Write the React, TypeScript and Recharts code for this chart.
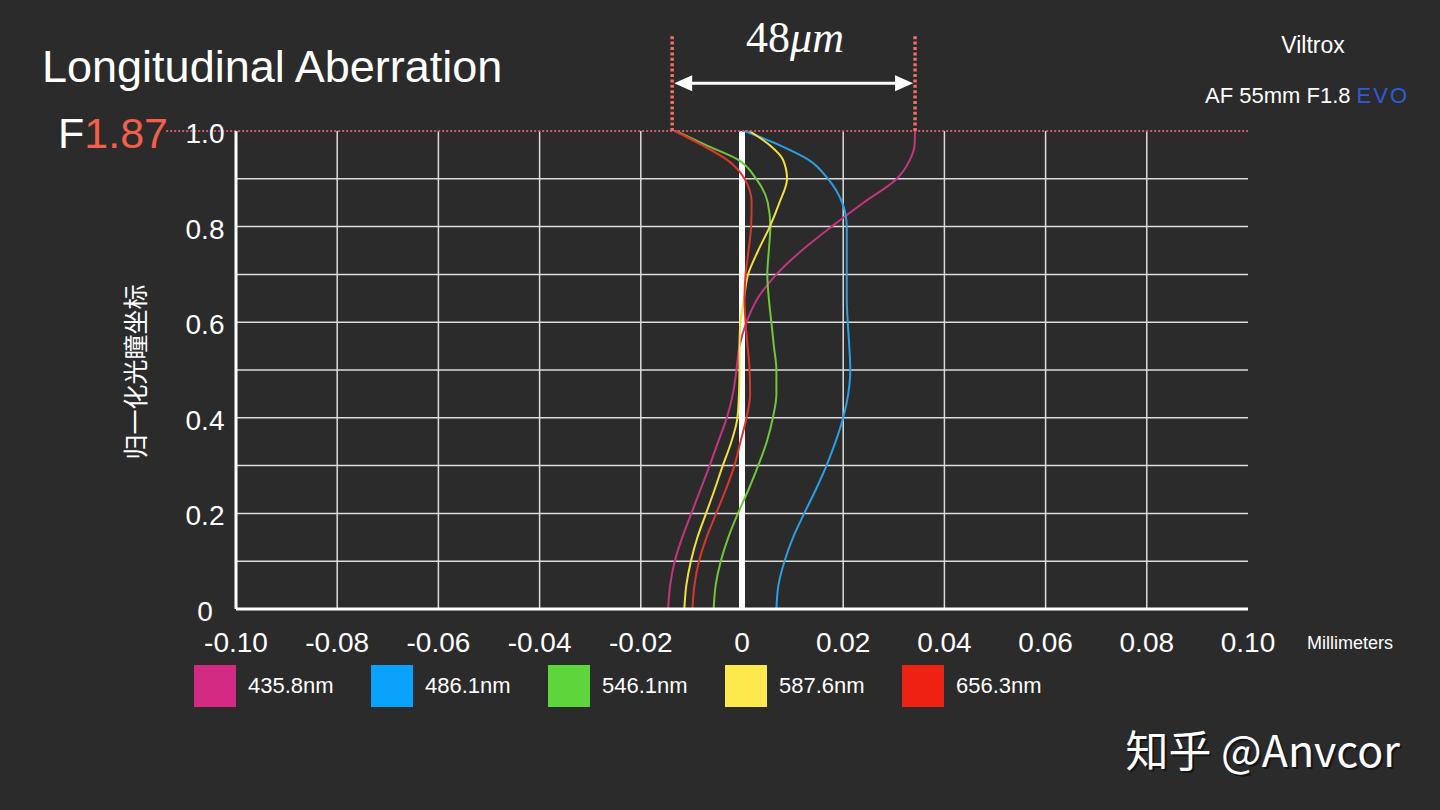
import React from 'react';
import { LineChart, Line, XAxis, YAxis, ReferenceLine } from 'recharts';

// normalized pupil coordinate (vertical axis)
const PUPIL = [0, 0.05, 0.1, 0.15, 0.2, 0.25, 0.3, 0.35, 0.4, 0.45, 0.5, 0.55, 0.6, 0.65, 0.7, 0.75, 0.8, 0.85, 0.9, 0.94, 0.97, 1.0];

// longitudinal focus shift, mm
const W4358 = [-0.0146, -0.0142, -0.0133, -0.0118, -0.0100, -0.0082, -0.0064, -0.0047, -0.0030, -0.0018, -0.0011, -0.0005, 0.0009, 0.0031, 0.0068, 0.0118, 0.0177, 0.0240, 0.0306, 0.0332, 0.0341, 0.0342];
const W4861 = [0.0068, 0.0072, 0.0084, 0.0101, 0.0123, 0.0146, 0.0167, 0.0185, 0.0200, 0.0210, 0.0214, 0.0212, 0.0209, 0.0207, 0.0207, 0.0207, 0.0207, 0.0198, 0.0170, 0.0131, 0.0075, 0.0005];
const W5461 = [-0.0056, -0.0052, -0.0042, -0.0027, -0.0008, 0.0013, 0.0032, 0.0049, 0.0061, 0.0068, 0.0068, 0.0063, 0.0058, 0.0053, 0.0050, 0.0053, 0.0056, 0.0051, 0.0028, -0.0008, -0.0070, -0.0130];
const W5876 = [-0.0114, -0.0110, -0.0101, -0.0088, -0.0071, -0.0054, -0.0038, -0.0021, -0.0009, -0.0006, -0.0005, -0.0005, -0.0003, 0.0004, 0.0012, 0.0032, 0.0055, 0.0074, 0.0089, 0.0081, 0.0055, 0.0015];
const W6563 = [-0.0098, -0.0094, -0.0085, -0.0070, -0.0051, -0.0032, -0.0015, -0.0003, 0.0009, 0.0016, 0.0015, 0.0011, 0.0007, 0.0005, 0.0007, 0.0013, 0.0018, 0.0019, 0.0005, -0.0030, -0.0078, -0.0133];

const SERIES = [
  { key: 'w4358', name: '435.8nm', values: W4358, line: '#c4357d', swatch: '#d12b83' },
  { key: 'w4861', name: '486.1nm', values: W4861, line: '#2c9fe4', swatch: '#0ba2fb' },
  { key: 'w5461', name: '546.1nm', values: W5461, line: '#71c63c', swatch: '#5cd63a' },
  { key: 'w5876', name: '587.6nm', values: W5876, line: '#f3e03e', swatch: '#fde94c' },
  { key: 'w6563', name: '656.3nm', values: W6563, line: '#dc362c', swatch: '#ee2212' },
];

const X_TICKS = [-0.1, -0.08, -0.06, -0.04, -0.02, 0, 0.02, 0.04, 0.06, 0.08, 0.1];
const X_LABELS = ['-0.10', '-0.08', '-0.06', '-0.04', '-0.02', '0', '0.02', '0.04', '0.06', '0.08', '0.10'];
const Y_TICKS = [0, 0.1, 0.2, 0.3, 0.4, 0.5, 0.6, 0.7, 0.8, 0.9, 1.0];
const Y_LABELS = ['0', '', '0.2', '', '0.4', '', '0.6', '', '0.8', '', '1.0'];
const GRID_X = [-0.08, -0.06, -0.04, -0.02, 0.02, 0.04, 0.06, 0.08];
const GRID_Y = [0.1, 0.2, 0.3, 0.4, 0.5, 0.6, 0.7, 0.8, 0.9];

// marginal ray spread at full aperture (48 µm)
const SPREAD = [-0.0138, 0.0342];

const data = PUPIL.map((y, i) => {
  const row: Record<string, number> = { y };
  SERIES.forEach(s => { row[s.key] = s.values[i]; });
  return row;
});

const FONT = '"Liberation Sans", Arial, Helvetica, sans-serif';
const CJK = '"Noto Sans CJK SC", sans-serif';

function labelFor(ticks: number[], labels: string[], v: number) {
  const i = ticks.findIndex(t => Math.abs(t - v) < 1e-9);
  return i >= 0 ? labels[i] : '';
}

function XTick(props: any) {
  const { x, payload } = props;
  return (
    <text x={x} y={652} textAnchor="middle" fill="#fff" fontSize={28} fontFamily={FONT}>
      {labelFor(X_TICKS, X_LABELS, payload.value)}
    </text>
  );
}

function YTick(props: any) {
  const { y, payload } = props;
  const label = labelFor(Y_TICKS, Y_LABELS, payload.value);
  if (!label) return <g />;
  return (
    <text x={205} y={y + 12} textAnchor="middle" fill="#fff" fontSize={28} fontFamily={FONT}>
      {label}
    </text>
  );
}

function ArrowShape(props: any) {
  const { x1, y1, x2, y2 } = props;
  const head = 20;
  const half = 8;
  return (
    <g>
      <line x1={x1 + head - 4} y1={y1} x2={x2 - head + 4} y2={y2} stroke="#fff" strokeWidth={3} />
      <polygon points={`${x1 + 2},${y1} ${x1 + head},${y1 - half} ${x1 + head},${y1 + half}`} fill="#fff" />
      <polygon points={`${x2 - 2},${y2} ${x2 - head},${y2 - half} ${x2 - head},${y2 + half}`} fill="#fff" />
    </g>
  );
}

export default function App() {
  return (
    <div style={{ position: 'absolute', left: 0, top: 0, width: 1440, height: 810, background: '#2b2b2b', fontFamily: FONT, overflow: 'hidden' }}>
      <LineChart
        width={1440}
        height={810}
        data={data}
        layout="vertical"
        margin={{ top: 131, right: 192, bottom: 141, left: 176 }}
      >
        <XAxis
          type="number"
          domain={[-0.1, 0.1]}
          ticks={X_TICKS}
          interval={0}
          height={60}
          tickLine={false}
          axisLine={{ stroke: '#fff', strokeWidth: 3 }}
          tick={<XTick />}
        />
        <YAxis
          type="number"
          dataKey="y"
          domain={[0, 1]}
          reversed
          ticks={Y_TICKS}
          interval={0}
          width={60}
          tickLine={false}
          axisLine={{ stroke: '#fff', strokeWidth: 3 }}
          tick={<YTick />}
        />

        {GRID_X.map(v => (
          <ReferenceLine key={'gx' + v} x={v} stroke="#dcdcdc" strokeWidth={1.5} />
        ))}
        {GRID_Y.map(v => (
          <ReferenceLine key={'gy' + v} y={v} stroke="#dcdcdc" strokeWidth={1.5} />
        ))}

        <ReferenceLine x={0} stroke="#fff" strokeWidth={6} />

        {SERIES.map(s => (
          <Line
            key={s.key}
            dataKey={s.key}
            name={s.name}
            type="monotone"
            stroke={s.line}
            strokeWidth={2}
            dot={false}
            activeDot={false}
            isAnimationActive={false}
          />
        ))}

        {/* F-number marker along the top edge */}
        <ReferenceLine
          segment={[{ x: -0.1138, y: 1 }, { x: 0.1, y: 1 }]}
          ifOverflow="visible"
          stroke="#d9566c"
          strokeWidth={2}
          strokeDasharray="2 2"
        />
        {SPREAD.map(v => (
          <ReferenceLine
            key={'sp' + v}
            segment={[{ x: v, y: 1 }, { x: v, y: 1.2 }]}
            ifOverflow="visible"
            stroke="#f06e64"
            strokeWidth={3.5}
            strokeDasharray="3 2.4"
          />
        ))}
        <ReferenceLine
          segment={[{ x: SPREAD[0], y: 1.1 }, { x: SPREAD[1], y: 1.1 }]}
          ifOverflow="visible"
          stroke="#fff"
          shape={ArrowShape}
        />
      </LineChart>

      <svg width={1440} height={810} style={{ position: 'absolute', left: 0, top: 0, pointerEvents: 'none' }}>
        <text x={42} y={82} fill="#fff" fontSize={45} fontFamily={FONT}>Longitudinal Aberration</text>
        <text x={58} y={148} fontSize={43} fontFamily={FONT}>
          <tspan fill="#fff">F</tspan>
          <tspan fill="#f0604c">1.87</tspan>
        </text>
        <text x={795} y={52} textAnchor="middle" fill="#fff" fontSize={44} fontFamily='"Liberation Serif", "DejaVu Serif", serif'>
          <tspan>48</tspan>
          <tspan fontStyle="italic">μm</tspan>
        </text>
        <text x={1313} y={53} textAnchor="middle" fill="#fff" fontSize={23} fontFamily={FONT}>Viltrox</text>
        <text x={1205} y={103} fill="#fff" fontSize={22} fontFamily={FONT}>
          AF 55mm F1.8 <tspan fill="#2f5bd8" letterSpacing={2}>EVO</tspan>
        </text>
        <text x={1307} y={649} fill="#fff" fontSize={18} fontFamily={FONT}>Millimeters</text>
        <text
          transform="translate(145, 372) rotate(-90)"
          textAnchor="middle"
          fill="#fff"
          fontSize={25}
          fontFamily={CJK}
        >
          归一化光瞳坐标
        </text>
        <text x={1402} y={769} textAnchor="end" fill="#000" fillOpacity={0.5} fontSize={43} fontFamily={CJK}>
          知乎 @Anvcor
        </text>
        <text x={1400} y={767} textAnchor="end" fill="#fff" fontSize={43} fontFamily={CJK}>
          知乎 @Anvcor
        </text>
      </svg>

      <div style={{ position: 'absolute', left: 194, top: 665, display: 'flex' }}>
        {SERIES.map(s => (
          <div key={s.key} style={{ width: 177, display: 'flex', alignItems: 'center' }}>
            <div style={{ width: 42, height: 42, background: s.swatch }} />
            <span style={{ marginLeft: 12, color: '#fff', fontSize: 22 }}>{s.name}</span>
          </div>
        ))}
      </div>
    </div>
  );
}
